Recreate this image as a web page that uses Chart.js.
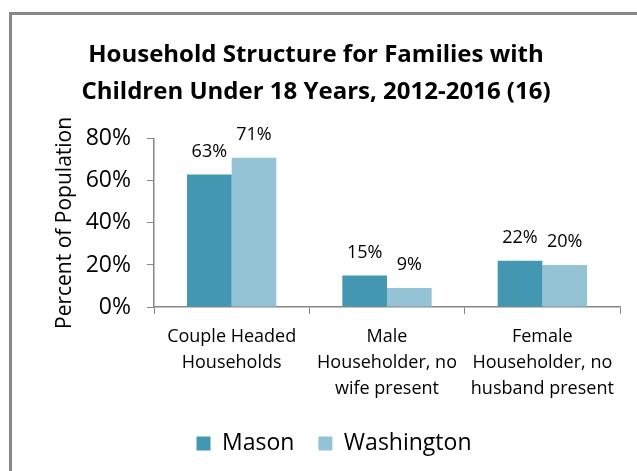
<!DOCTYPE html>
<html>
<head>
<meta charset="utf-8">
<script src="https://cdn.jsdelivr.net/npm/chart.js@4"></script>
<style>
  html, body { margin: 0; padding: 0; background: #fff; overflow: hidden; }
  #wrap { position: relative; width: 637px; height: 471px; }
  #frame { position: absolute; left: 9px; top: 12px; width: 700px; height: 520px; border: 3px solid #888; box-sizing: border-box; }
  #chart { position: absolute; left: 0; top: 0; }
</style>
</head>
<body>
<div id="wrap">
  <div id="frame"></div>
  <canvas id="chart" width="637" height="471"></canvas>
</div>
<script>
const categories = [
  ["Couple Headed", "Households"],
  ["Male", "Householder, no", "wife present"],
  ["Female", "Householder, no", "husband present"]
];
const masonValues = [63, 15, 22];
const washingtonValues = [71, 9, 20];
const yTicks = [0, 20, 40, 60, 80];

const axisGray = "#868686";
const font = "'Open Sans', sans-serif";

// draws "63%" etc above each bar
const barLabels = {
  id: "barLabels",
  afterDatasetsDraw(chart) {
    const ctx = chart.ctx;
    ctx.save();
    ctx.font = "18px " + font;
    ctx.fillStyle = "#000";
    ctx.textAlign = "center";
    ctx.textBaseline = "middle";
    chart.data.datasets.forEach((ds, i) => {
      chart.getDatasetMeta(i).data.forEach((bar, j) => {
        ctx.fillText(ds.data[j] + "%", bar.x, bar.y - 23);
      });
    });
    ctx.restore();
  }
};

// legend sits a bit right of centre in the original
const legendShift = {
  id: "legendShift",
  afterLayout(chart) {
    chart.legend.left += 18;
    chart.legend.right += 18;
  }
};

const chart = new Chart(document.getElementById("chart"), {
  type: "bar",
  data: {
    labels: categories,
    datasets: [
      {
        label: "Mason",
        data: masonValues,
        backgroundColor: "#4397B0",
        categoryPercentage: 0.575,
        barPercentage: 1
      },
      {
        label: "Washington",
        data: washingtonValues,
        backgroundColor: "#93C3D5",
        categoryPercentage: 0.575,
        barPercentage: 1
      }
    ]
  },
  plugins: [barLabels, legendShift],
  options: {
    responsive: false,
    animation: false,
    layout: { padding: { left: 12, top: 14, right: 17, bottom: 8 } },
    plugins: {
      title: {
        display: true,
        text: ["Household Structure for Families with", "Children Under 18 Years, 2012-2016 (16)"],
        color: "#000",
        font: { family: font, size: 24, weight: "bold", lineHeight: 1.56 },
        padding: { top: 22, bottom: 28 }
      },
      legend: {
        position: "bottom",
        labels: {
          color: "#000",
          font: { family: font, size: 23 },
          boxWidth: 14,
          boxHeight: 14,
          padding: 24
        }
      },
      tooltip: { enabled: false }
    },
    scales: {
      y: {
        min: 0,
        max: 80,
        afterFit: (scale) => { scale.width = 142; },
        afterBuildTicks: (scale) => { scale.ticks = yTicks.map((v) => ({ value: v })); },
        ticks: {
          color: "#000",
          font: { family: font, size: 23 },
          padding: 16,
          callback: (v) => v + "%"
        },
        grid: { drawOnChartArea: false, tickLength: 7, color: axisGray },
        border: { color: axisGray, width: 1.5 },
        title: {
          display: true,
          text: "Percent of Population",
          color: "#000",
          font: { family: font, size: 21 },
          padding: { top: 40, bottom: 0 }
        }
      },
      x: {
        afterFit: (scale) => { scale.height = 101; },
        ticks: {
          color: "#000",
          font: { family: font, size: 18, lineHeight: 1.45 },
          padding: 10,
          maxRotation: 0
        },
        grid: { offset: true, drawOnChartArea: false, tickLength: 7, color: axisGray },
        border: { color: axisGray, width: 1.5 }
      }
    }
  }
});

// wide gap between legend items, but keep the legend box short
const legendFit = chart.legend.fit;
chart.legend.fit = function () {
  legendFit.call(this);
  this.height = 55;
};
chart.update();
</script>
</body>
</html>
